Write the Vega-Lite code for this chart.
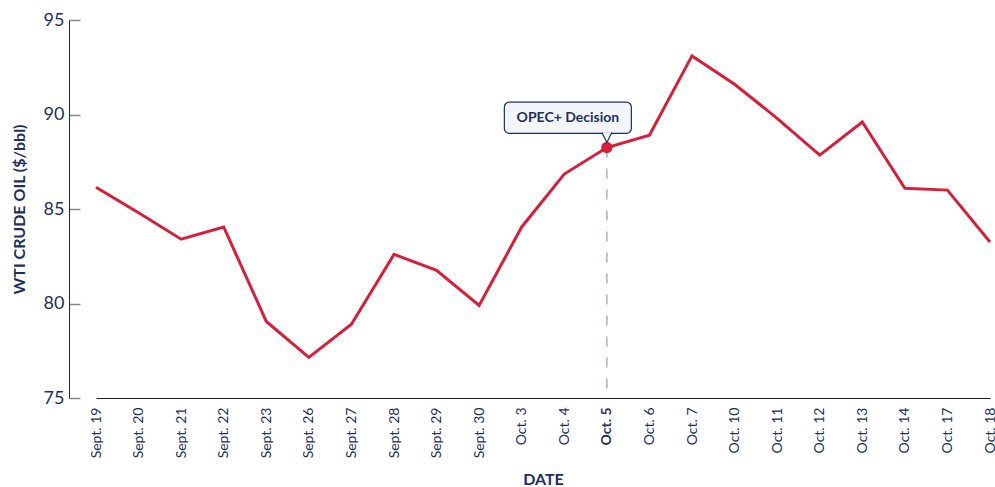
{
  "$schema": "https://vega.github.io/schema/vega-lite/v6.json",
  "autosize": "none",
  "width": 926,
  "height": 378,
  "padding": {"left": 69, "top": 20, "right": 0, "bottom": 89},
  "background": "white",
  "config": {
    "view": {"stroke": null},
    "font": "Lato",
    "axis": {"labelFont": "Lato", "titleFont": "Lato", "labelColor": "#1d2f5c", "titleColor": "#1d2f5c", "domainColor": "#222222", "grid": false}
  },
  "data": {
    "values": [
      {"date": "Sept. 19", "price": 86.15},
      {"date": "Sept. 20", "price": 84.8},
      {"date": "Sept. 21", "price": 83.4},
      {"date": "Sept. 22", "price": 84.05},
      {"date": "Sept. 23", "price": 79.05},
      {"date": "Sept. 26", "price": 77.15},
      {"date": "Sept. 27", "price": 78.9},
      {"date": "Sept. 28", "price": 82.6},
      {"date": "Sept. 29", "price": 81.75},
      {"date": "Sept. 30", "price": 79.9},
      {"date": "Oct. 3", "price": 84.05},
      {"date": "Oct. 4", "price": 86.85},
      {"date": "Oct. 5", "price": 88.25},
      {"date": "Oct. 6", "price": 88.9},
      {"date": "Oct. 7", "price": 93.1},
      {"date": "Oct. 10", "price": 91.6},
      {"date": "Oct. 11", "price": 89.8},
      {"date": "Oct. 12", "price": 87.85},
      {"date": "Oct. 13", "price": 89.6},
      {"date": "Oct. 14", "price": 86.1},
      {"date": "Oct. 17", "price": 86.0},
      {"date": "Oct. 18", "price": 83.25}
    ]
  },
  "encoding": {
    "x": {
      "field": "date",
      "type": "ordinal",
      "sort": null,
      "scale": {
        "type": "point",
        "domain": ["Sept. 19", "Sept. 20", "Sept. 21", "Sept. 22", "Sept. 23", "Sept. 26", "Sept. 27", "Sept. 28", "Sept. 29", "Sept. 30", "Oct. 3", "Oct. 4", "Oct. 5", "Oct. 6", "Oct. 7", "Oct. 10", "Oct. 11", "Oct. 12", "Oct. 13", "Oct. 14", "Oct. 17", "Oct. 18"],
        "range": [27, 921],
        "padding": 0
      },
      "axis": {
        "title": "DATE",
        "titleFontSize": 16,
        "titleFontWeight": "bold",
        "titlePadding": 14,
        "labelAngle": -90,
        "labelAlign": "right",
        "labelBaseline": "middle",
        "labelFontSize": 14,
        "labelPadding": 9,
        "ticks": false,
        "labelFontWeight": {"condition": {"test": "datum.value === 'Oct. 5'", "value": "bold"}, "value": "normal"}
      }
    },
    "y": {
      "field": "price",
      "type": "quantitative",
      "scale": {"domain": [75, 95], "nice": false, "zero": false},
      "axis": {
        "title": "WTI CRUDE OIL ($/bbl)",
        "titleFontSize": 16,
        "titleFontWeight": "bold",
        "titlePadding": 16,
        "values": [75, 80, 85, 90, 95],
        "labelFontSize": 18,
        "tickSize": -11,
        "tickColor": "#888888",
        "tickWidth": 1.5,
        "labelPadding": 16
      }
    }
  },
  "layer": [
    {
      "transform": [{"filter": "datum.date === 'Oct. 5'"}],
      "mark": {"type": "rule", "color": "#a6b4c8", "strokeWidth": 1.5, "strokeDash": [10, 11]},
      "encoding": {"y2": {"datum": 75}}
    },
    {
      "mark": {"type": "line", "color": "#d61f3a", "strokeWidth": 3}
    },
    {
      "transform": [{"filter": "datum.date === 'Oct. 5'"}],
      "mark": {"type": "point", "shape": "circle", "filled": true, "color": "#d61f3a", "size": 130, "opacity": 1}
    },
    {
      "transform": [{"filter": "datum.date === 'Oct. 5'"}],
      "mark": {"type": "rect", "width": 127, "xOffset": -39, "fill": "#f3f5f8", "stroke": "#1d2f5c", "strokeWidth": 1.2, "cornerRadius": 5},
      "encoding": {"y": {"datum": 90.66}, "y2": {"datum": 89.0}}
    },
    {
      "transform": [{"filter": "datum.date === 'Oct. 5'"}],
      "mark": {"type": "point", "shape": "M-1,-1 L0,1 L1,-1", "size": 100, "filled": true, "fill": "#f3f5f8", "stroke": "#1d2f5c", "strokeWidth": 1.2, "opacity": 1, "yOffset": 4},
      "encoding": {"y": {"datum": 89.0}}
    },
    {
      "transform": [{"filter": "datum.date === 'Oct. 5'"}],
      "mark": {"type": "text", "text": "OPEC+ Decision", "font": "Lato", "fontWeight": "bold", "fontSize": 14, "color": "#1d2f5c", "xOffset": -39, "align": "center", "baseline": "middle"},
      "encoding": {"y": {"datum": 89.83}}
    }
  ]
}
